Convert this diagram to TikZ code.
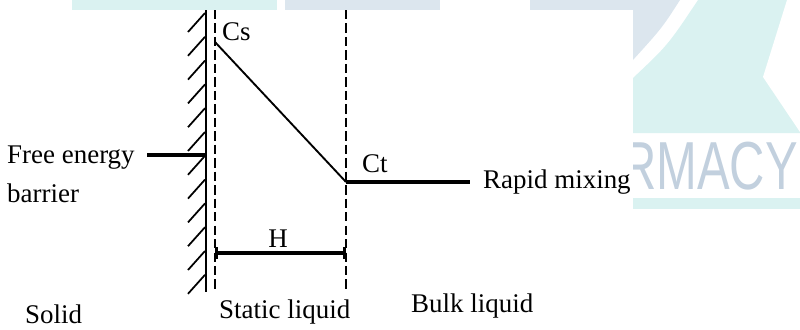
\documentclass[tikz,border=0pt]{standalone}
\usepackage{fontspec}
\setmainfont{Liberation Serif}
\newfontfamily\wmfont{Liberation Sans}
\usepackage{tikz}
\usetikzlibrary{arrows.meta,positioning}
\definecolor{wmcyan}{HTML}{DAF2F1}
\definecolor{wmgray}{HTML}{DCE6EE}
\definecolor{wmtext}{HTML}{C2D0DE}

\tikzset{
  wall/.style={line width=2pt},
  hatchline/.style={line width=1.5pt},
  guide/.style={dash pattern=on 8pt off 3.5pt, line width=1.5pt},
  conc/.style={line width=1.6pt},
  lead/.style={line width=2.6pt},
  lbl/.style={font=\fontsize{23}{33}\selectfont, inner sep=0pt},
}

\begin{document}
\begin{tikzpicture}[x=0.03cm,y=-0.03cm]
\useasboundingbox (0,0) rectangle (800,329);

% watermark behind the figure
\fill[wmcyan] (72,0) rectangle (277,10);
\fill[wmgray] (285,0) rectangle (440,10);
\fill[wmgray] (530,0) rectangle (633,10);
\fill[wmgray] (633,0) -- (680,0) .. controls (662,28) .. (633,60) -- cycle;
\fill[wmcyan] (698,0) -- (800,0) -- (800,133) -- (633,133) -- (633,78) .. controls (668,45) .. (698,0) -- cycle;
\fill[white] (787,0) -- (800,0) -- (800,132) -- (763,77) -- cycle;
\fill[wmcyan] (633,198) rectangle (800,209);
\node[anchor=base west, inner sep=0pt, text=wmtext, xscale=0.72,
  font=\wmfont\fontsize{58}{58}\selectfont] (wm) at (621,189) {RMACY};
\fill[white] (0,10) rectangle (633,329);

% solid wall and hatching
\coordinate (walltop) at (206,10);
\coordinate (wallbot) at (206,292);
\draw[wall] (walltop) -- (wallbot);
\foreach \i in {0,...,11}
  \draw[hatchline] (205,{13+23.8*\i}) -- ++(-17,19);

% boundaries of the static layer
\coordinate (lay1top) at (215,10);
\coordinate (lay1bot) at (215,292);
\coordinate (lay2top) at (346,10);
\coordinate (lay2bot) at (346,292);
\draw[guide] (lay1top) -- (lay1bot);
\draw[guide] (lay2top) -- (lay2bot);

% concentration profile
\coordinate (cs) at (215,42);
\coordinate (ct) at (346,182);
\coordinate (mixend) at (470,182);
\draw[conc] (cs) -- (ct);
\draw[lead] (ct) -- (mixend);
\node[lbl, anchor=base west] (cslbl) at (222,40) {Cs};
\node[lbl, anchor=base west] (ctlbl) at (362,172) {Ct};
\node[lbl, anchor=base west] (mix) at (483,188) {Rapid mixing};

% barrier label
\node[lbl, anchor=base west, align=left] (barrier) at (7,202) {Free energy\\barrier};
\coordinate (fe) at (147,155);
\coordinate (fewall) at (206,155);
\draw[lead] (fe) -- (fewall);

% thickness of the layer
\coordinate (h1) at (215,253);
\coordinate (h2) at (346,253);
\draw[lead, {Bar[width=11pt]}-{Bar[width=11pt]}] (h1) -- (h2);
\node[lbl, anchor=base] (hlbl) at (278,247) {H};

% regions
\node[lbl, anchor=base west] (solid) at (25,323) {Solid};
\node[lbl, anchor=base west] (static) at (219,318) {Static liquid};
\node[lbl, anchor=base west] (bulk) at (411,312) {Bulk liquid};
\end{tikzpicture}
\end{document}
